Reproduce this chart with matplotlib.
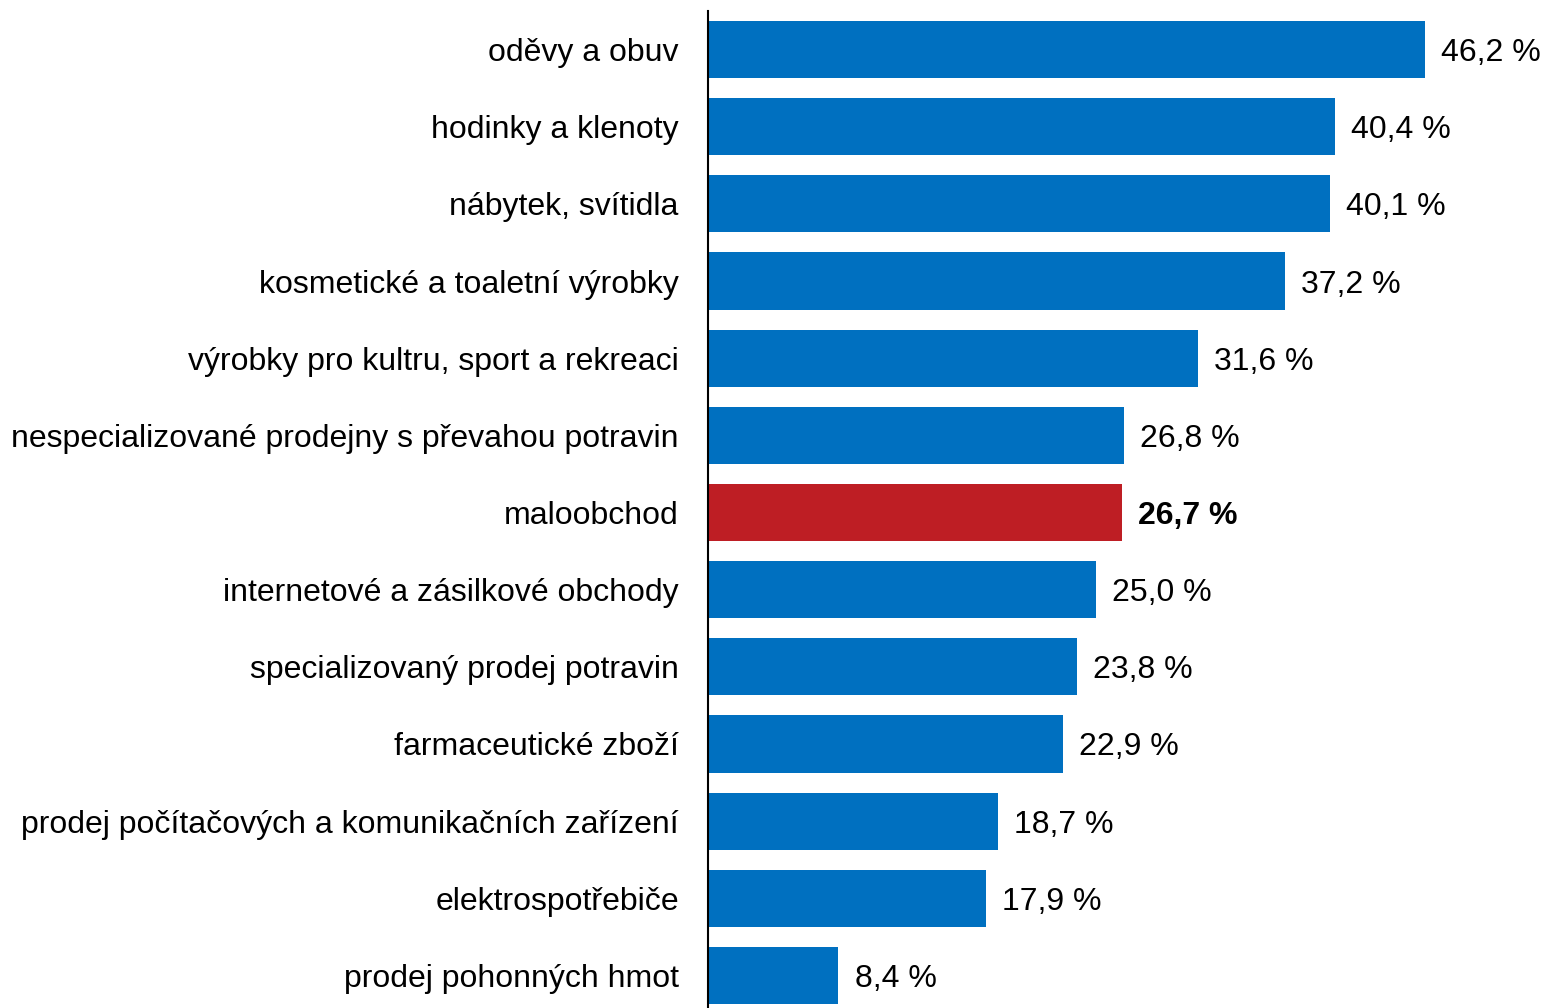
import matplotlib.pyplot as plt

plt.rcParams['font.family'] = ['Liberation Sans', 'DejaVu Sans']

kategorie = [
    "oděvy a obuv",
    "hodinky a klenoty",
    "nábytek, svítidla",
    "kosmetické a toaletní výrobky",
    "výrobky pro kultru, sport a rekreaci",
    "nespecializované prodejny s převahou potravin",
    "maloobchod",
    "internetové a zásilkové obchody",
    "specializovaný prodej potravin",
    "farmaceutické zboží",
    "prodej počítačových a komunikačních zařízení",
    "elektrospotřebiče",
    "prodej pohonných hmot",
]
hodnoty = [46.2, 40.4, 40.1, 37.2, 31.6, 26.8, 26.7, 25.0, 23.8, 22.9, 18.7, 17.9, 8.4]
zvyraznit = "maloobchod"

modra = "#0070C0"
cervena = "#BE1E24"

fig = plt.figure(figsize=(15.44, 10.08), dpi=100)
ax = fig.add_axes([708 / 1544, -6 / 1008, 1 - 708 / 1544, 1003 / 1008])

pozice = list(range(len(kategorie)))
barvy = [cervena if k == zvyraznit else modra for k in kategorie]
ax.barh(pozice, hodnoty, height=0.74, color=barvy)

for p, k, h in zip(pozice, kategorie, hodnoty):
    txt = f"{h:.1f} %".replace(".", ",")
    ax.text(h + 1.05, p, txt, va="center_baseline", ha="left", fontsize=23,
            fontweight="bold" if k == zvyraznit else "normal")

ax.set_yticks(pozice)
ax.set_yticklabels(kategorie, fontsize=23)
ax.tick_params(axis="y", length=0, pad=21)
ax.set_ylim(len(kategorie) - 0.5, -0.5)
ax.set_xlim(0, 53.9)
ax.set_xticks([])
for s in ["top", "right", "bottom"]:
    ax.spines[s].set_visible(False)
ax.spines["left"].set_linewidth(1.5)

fig.savefig("out.png", dpi=100)
